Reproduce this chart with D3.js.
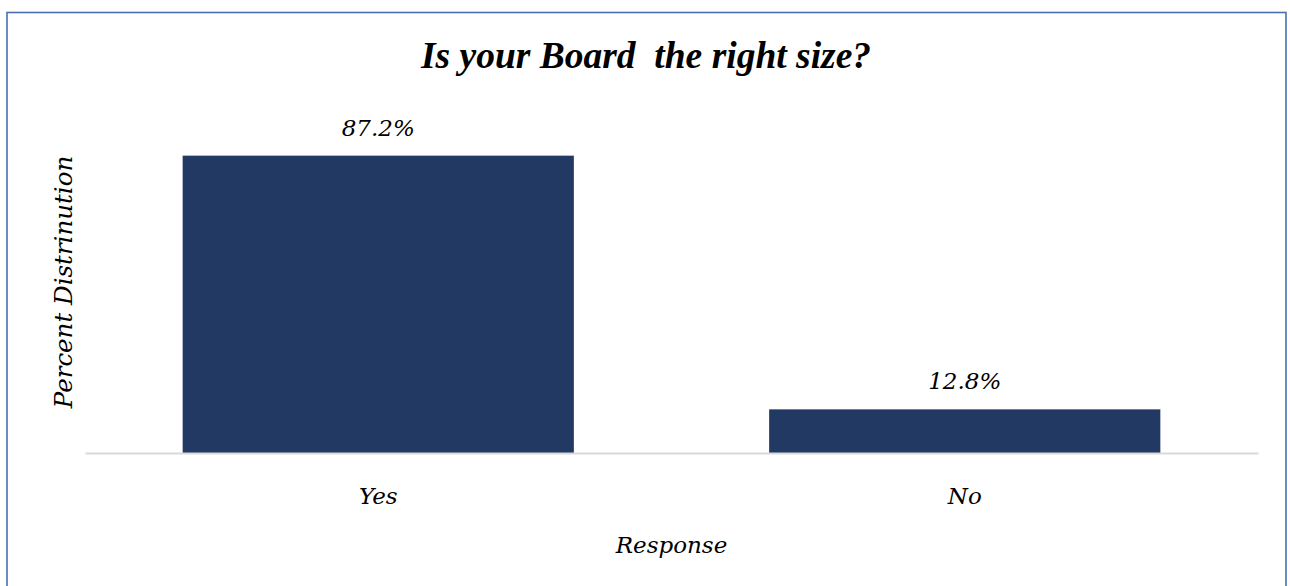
<!DOCTYPE html>
<html>
<head>
<meta charset="utf-8">
<script src="https://cdn.jsdelivr.net/npm/d3@7"></script>
<style>
  html, body { margin: 0; padding: 0; background: #fff; }
  svg { display: block; }
  text { fill: #000; }
  .lbl { font-family: "DejaVu Serif", "Liberation Serif", serif; font-style: italic; }
  .ttl { font-family: "Liberation Serif", "DejaVu Serif", serif; font-style: italic; font-weight: bold; }
</style>
</head>
<body>
<svg id="chart" width="1290" height="586"></svg>
<script>
// Survey responses
const categories = ["Yes", "No"];
const percents = [87.2, 12.8];
const valueLabels = ["87.2%", "12.8%"];

const titleText = "Is your Board  the right size?";
const yTitle = "Percent Distrinution";
const xTitle = "Response";

const W = 1290, H = 586;
const margin = { top: 112, right: 32, bottom: 133, left: 85 };
const plotW = W - margin.left - margin.right;
const plotH = H - margin.top - margin.bottom;

const svg = d3.select("#chart");

// chart frame
svg.append("rect")
  .attr("x", 7).attr("y", 12.5)
  .attr("width", 1279).attr("height", 600)
  .attr("fill", "none")
  .attr("stroke", "#4a6fb0")
  .attr("stroke-width", 1.6);

const g = svg.append("g").attr("transform", `translate(${margin.left},${margin.top})`);

const x = d3.scaleBand().domain(categories).range([0, plotW]).paddingInner(0.333).paddingOuter(0.1665);
const y = d3.scaleLinear().domain([0, 100]).range([plotH, 0]);

// bars
g.selectAll("rect.bar")
  .data(categories)
  .join("rect")
  .attr("class", "bar")
  .attr("x", d => x(d))
  .attr("width", x.bandwidth())
  .attr("y", (d, i) => y(percents[i]))
  .attr("height", (d, i) => plotH - y(percents[i]))
  .attr("fill", "#223963");

// baseline axis
const xAxis = g.append("g")
  .attr("transform", `translate(0,${plotH})`)
  .call(d3.axisBottom(x).tickSize(0));
xAxis.select(".domain").attr("stroke", "#d9d9d9").attr("stroke-width", 2);
xAxis.selectAll(".tick text")
  .attr("class", "lbl")
  .attr("y", 51)
  .attr("dy", 0)
  .attr("font-size", 23)
  .style("font-family", "'DejaVu Serif', 'Liberation Serif', serif")
  .attr("fill", "#000");

// value labels
g.selectAll("text.val")
  .data(categories)
  .join("text")
  .attr("class", "val lbl")
  .attr("x", d => x(d) + x.bandwidth() / 2)
  .attr("y", (d, i) => y(percents[i]) - 20)
  .attr("text-anchor", "middle")
  .attr("font-size", 23)
  .text((d, i) => valueLabels[i]);

// title
svg.append("text")
  .attr("class", "ttl")
  .attr("x", 646).attr("y", 68)
  .attr("text-anchor", "middle")
  .attr("font-size", 37.5)
  .attr("xml:space", "preserve")
  .style("white-space", "pre")
  .text(titleText);

// axis titles
svg.append("text")
  .attr("class", "lbl")
  .attr("transform", `translate(72,${(157 + 407) / 2}) rotate(-90)`)
  .attr("text-anchor", "middle")
  .attr("font-size", 24.5)
  .text(yTitle);

svg.append("text")
  .attr("class", "lbl")
  .attr("x", margin.left + plotW / 2).attr("y", 553)
  .attr("text-anchor", "middle")
  .attr("font-size", 23)
  .text(xTitle);
</script>
</body>
</html>
